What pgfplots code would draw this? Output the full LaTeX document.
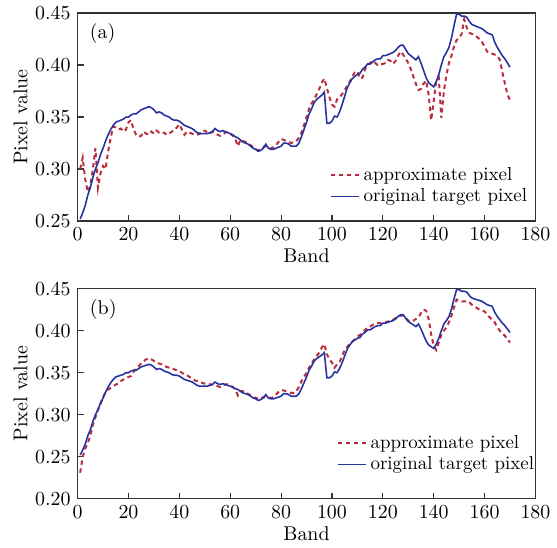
\documentclass[border=0pt]{standalone}
\usepackage{pgfplots}
\usepackage{pgfplotstable}
\pgfplotsset{compat=1.18}
\definecolor{appr}{RGB}{185,45,60}
\definecolor{orig}{RGB}{40,50,160}

% band, original target pixel, approximate pixel (a), approximate pixel (b)
\pgfplotstableread{
band orig  appa  appb
1   0.252 0.300 0.231
2   0.258 0.311 0.250
3   0.265 0.290 0.260
4   0.275 0.278 0.266
5   0.282 0.284 0.275
6   0.292 0.300 0.288
7   0.300 0.320 0.297
8   0.306 0.282 0.306
9   0.314 0.296 0.313
10  0.320 0.303 0.321
11  0.327 0.300 0.327
12  0.333 0.317 0.330
13  0.338 0.330 0.332
14  0.342 0.341 0.334
15  0.345 0.340 0.336
16  0.346 0.338 0.337
17  0.347 0.339 0.340
18  0.348 0.336 0.342
19  0.350 0.338 0.343
20  0.350 0.345 0.345
21  0.352 0.347 0.346
22  0.353 0.338 0.351
23  0.353 0.333 0.355
24  0.355 0.331 0.358
25  0.357 0.332 0.361
26  0.358 0.336 0.364
27  0.359 0.334 0.366
28  0.360 0.333 0.367
29  0.359 0.336 0.366
30  0.357 0.334 0.364
31  0.354 0.337 0.362
32  0.355 0.335 0.361
33  0.354 0.334 0.360
34  0.352 0.335 0.358
35  0.351 0.333 0.357
36  0.350 0.334 0.356
37  0.348 0.336 0.355
38  0.347 0.337 0.354
39  0.347 0.340 0.353
40  0.346 0.343 0.352
41  0.344 0.338 0.350
42  0.342 0.333 0.348
43  0.341 0.336 0.347
44  0.340 0.335 0.345
45  0.339 0.334 0.343
46  0.337 0.333 0.341
47  0.335 0.333 0.340
48  0.334 0.334 0.339
49  0.334 0.337 0.338
50  0.334 0.337 0.337
51  0.334 0.335 0.337
52  0.335 0.334 0.336
53  0.336 0.336 0.336
54  0.339 0.335 0.335
55  0.337 0.333 0.334
56  0.336 0.332 0.333
57  0.337 0.333 0.334
58  0.336 0.335 0.336
59  0.335 0.336 0.336
60  0.334 0.334 0.335
61  0.333 0.332 0.333
62  0.331 0.329 0.330
63  0.330 0.322 0.323
64  0.328 0.328 0.328
65  0.326 0.327 0.328
66  0.325 0.326 0.326
67  0.324 0.325 0.325
68  0.322 0.323 0.323
69  0.320 0.321 0.321
70  0.319 0.319 0.320
71  0.317 0.318 0.319
72  0.318 0.319 0.319
73  0.320 0.321 0.321
74  0.324 0.322 0.321
75  0.320 0.320 0.320
76  0.319 0.320 0.320
77  0.319 0.321 0.321
78  0.320 0.323 0.324
79  0.321 0.326 0.327
80  0.322 0.329 0.329
81  0.325 0.328 0.329
82  0.325 0.327 0.328
83  0.324 0.326 0.327
84  0.322 0.325 0.326
85  0.322 0.326 0.326
86  0.322 0.327 0.328
87  0.325 0.330 0.333
88  0.331 0.335 0.340
89  0.338 0.342 0.345
90  0.345 0.350 0.350
91  0.353 0.358 0.356
92  0.358 0.363 0.361
93  0.364 0.367 0.366
94  0.367 0.372 0.370
95  0.369 0.377 0.374
96  0.371 0.383 0.380
97  0.374 0.387 0.384
98  0.344 0.378 0.372
99  0.344 0.369 0.366
100 0.346 0.362 0.362
101 0.351 0.360 0.356
102 0.350 0.367 0.360
103 0.355 0.369 0.363
104 0.362 0.372 0.370
105 0.370 0.376 0.377
106 0.378 0.380 0.381
107 0.383 0.384 0.384
108 0.387 0.389 0.387
109 0.389 0.393 0.390
110 0.391 0.394 0.393
111 0.392 0.387 0.395
112 0.396 0.388 0.398
113 0.398 0.396 0.401
114 0.401 0.400 0.404
115 0.401 0.402 0.405
116 0.403 0.404 0.407
117 0.405 0.402 0.408
118 0.406 0.400 0.409
119 0.406 0.401 0.409
120 0.409 0.401 0.410
121 0.409 0.402 0.410
122 0.410 0.405 0.411
123 0.411 0.404 0.412
124 0.412 0.401 0.413
125 0.414 0.404 0.415
126 0.417 0.409 0.417
127 0.419 0.413 0.418
128 0.419 0.410 0.418
129 0.415 0.406 0.415
130 0.411 0.402 0.412
131 0.409 0.396 0.411
132 0.407 0.389 0.412
133 0.405 0.382 0.414
134 0.408 0.376 0.416
135 0.402 0.377 0.421
136 0.395 0.382 0.425
137 0.388 0.385 0.424
138 0.383 0.372 0.414
139 0.381 0.347 0.396
140 0.379 0.365 0.382
141 0.384 0.385 0.377
142 0.391 0.388 0.386
143 0.400 0.349 0.395
144 0.408 0.375 0.400
145 0.412 0.390 0.404
146 0.417 0.402 0.410
147 0.426 0.409 0.418
148 0.438 0.418 0.428
149 0.449 0.424 0.437
150 0.449 0.426 0.436
151 0.447 0.430 0.435
152 0.447 0.444 0.435
153 0.446 0.436 0.435
154 0.442 0.431 0.434
155 0.439 0.430 0.431
156 0.438 0.429 0.429
157 0.437 0.427 0.427
158 0.436 0.425 0.425
159 0.435 0.422 0.424
160 0.433 0.418 0.423
161 0.431 0.413 0.419
162 0.430 0.412 0.416
163 0.429 0.411 0.413
164 0.422 0.410 0.410
165 0.417 0.409 0.404
166 0.413 0.405 0.400
167 0.409 0.393 0.397
168 0.406 0.382 0.394
169 0.402 0.372 0.390
170 0.398 0.366 0.386
}\spectra

\pgfplotsset{
  panel/.style={
    scale only axis,
    width=230pt,
    xmin=0, xmax=180,
    xtick={0,20,...,180},
    xtick pos=left, ytick pos=left,
    tick align=inside,
    major tick length=3pt,
    axis line style={black!80, line width=0.6pt},
    tick style={black!80, line width=0.6pt},
    xlabel={Band},
    ylabel={Pixel value},
    xlabel style={yshift=3pt},
    ylabel style={yshift=-3pt},
    y tick label style={/pgf/number format/.cd, fixed, fixed zerofill, precision=2},
    legend cell align=left,
    legend image code/.code={\draw[##1] (0pt,0pt) -- (14pt,0pt);},
    legend style={draw=none, fill=none, font=\fontsize{9.5}{11}\selectfont,
      row sep=-1.5pt, anchor=south east},
  },
  apprline/.style={appr, line width=1pt, dash pattern=on 2.2pt off 1.8pt},
  origline/.style={orig, line width=0.8pt},
}

\begin{document}
\begin{tikzpicture}
\path (-39pt,-164pt) rectangle (239.5pt,110.5pt);

\begin{axis}[panel,
  at={(0,0)}, anchor=south west,
  height=104.5pt,
  ymin=0.25, ymax=0.45,
  ytick={0.25,0.30,...,0.45},
  legend style={at={(rel axis cs:1,0.04)}, xshift=1pt},
]
\addplot[apprline] table[x=band, y=appa] {\spectra};
\addlegendentry{approximate pixel}
\addplot[origline] table[x=band, y=orig] {\spectra};
\addlegendentry{original target pixel}
\node[anchor=north west, inner sep=2pt] at (rel axis cs:0,1) [xshift=4pt, yshift=-3pt] {(a)};
\end{axis}

\begin{axis}[panel,
  at={(0,-139.5pt)}, anchor=south west,
  height=105.5pt,
  ymin=0.20, ymax=0.45,
  ytick={0.20,0.25,...,0.45},
  legend style={at={(rel axis cs:1,0.085)}, xshift=4.5pt},
]
\addplot[apprline] table[x=band, y=appb] {\spectra};
\addlegendentry{approximate pixel}
\addplot[origline] table[x=band, y=orig] {\spectra};
\addlegendentry{original target pixel}
\node[anchor=north west, inner sep=2pt] at (rel axis cs:0,1) [xshift=4pt, yshift=-3pt] {(b)};
\end{axis}
\end{tikzpicture}
\end{document}
